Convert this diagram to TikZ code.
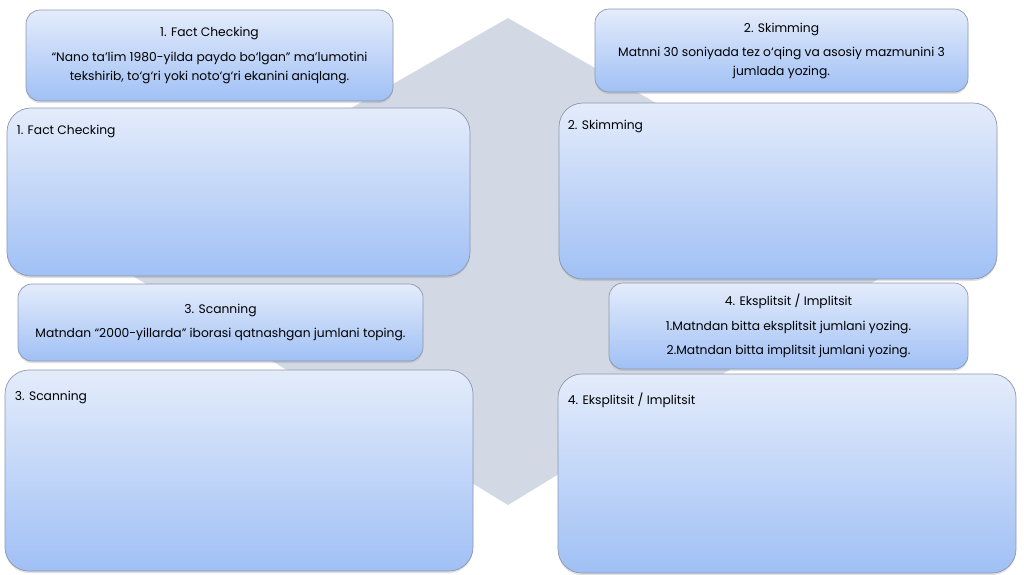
\documentclass[tikz,border=0pt]{standalone}
\usepackage{fontspec}
\setmainfont{Poppins}
\usetikzlibrary{positioning,shadows}
\definecolor{diamondfill}{RGB}{211,217,228}
\definecolor{boxtop}{RGB}{228,236,251}
\definecolor{boxbot}{RGB}{160,192,245}
\definecolor{boxline}{RGB}{140,152,175}

\begin{document}
\begin{tikzpicture}[x=1pt,y=-1pt,font=\fontsize{12.3}{19}\selectfont,
  panel/.style={draw=boxline,line width=0.7pt,top color=boxtop,bottom color=boxbot,
    inner sep=0pt,drop shadow={shadow xshift=0pt,shadow yshift=-2pt,opacity=0.25}},
  smallbox/.style={panel,rounded corners=14pt,align=center},
  bigbox/.style={panel,rounded corners=24pt},
  boxlabel/.style={anchor=west,inner sep=0pt}]
  \useasboundingbox[fill=white] (0,0) rectangle (1024,574);
  % background diamond
  \fill[diamondfill] (508,18) -- (97,254) -- (508,505) -- (919,254) -- cycle;
  % (1) fact checking
  \node[smallbox,minimum width=367pt,minimum height=91pt] (fcask) at (209.5,55.5)
     {1. Fact Checking\\[6pt]
      “Nano ta’lim 1980-yilda paydo bo‘lgan” ma’lumotini\\
      tekshirib, to‘g‘ri yoki noto‘g‘ri ekanini aniqlang.};
  \node[bigbox,minimum width=463pt,minimum height=168pt] (fcwork) at (238.5,192) {};
  \node[boxlabel] (fclabel) at ([shift={(10,24)}]fcwork.north west) {1. Fact Checking};
  % (2) skimming
  \node[smallbox,minimum width=373pt,minimum height=83pt] (skask) at (781.5,50.5)
     {2. Skimming\\[5pt]
      Matnni 30 soniyada tez o‘qing va asosiy mazmunini 3\\
      jumlada yozing.};
  \node[bigbox,minimum width=438pt,minimum height=176pt] (skwork) at (778,191) {};
  \node[boxlabel] (sklabel) at ([shift={(9,24)}]skwork.north west) {2. Skimming};
  % (3) scanning
  \node[smallbox,minimum width=405pt,minimum height=77pt] (scask) at (220.5,322.5)
     {3. Scanning\\[5pt]
      Matndan “2000-yillarda” iborasi qatnashgan jumlani toping.};
  \node[bigbox,minimum width=468pt,minimum height=201pt] (scwork) at (239,470.5) {};
  \node[boxlabel] (sclabel) at ([shift={(10,28)}]scwork.north west) {3. Scanning};
  % (4) explicit / implicit
  \node[smallbox,minimum width=359pt,minimum height=86pt] (eiask) at (788.5,326)
     {4. Eksplitsit / Implitsit\\[6pt]
      1.Matndan bitta eksplitsit jumlani yozing.\\[5pt]
      2.Matndan bitta implitsit jumlani yozing.};
  \node[bigbox,minimum width=458pt,minimum height=199pt] (eiwork) at (787,473.5) {};
  \node[boxlabel] (eilabel) at ([shift={(10,27)}]eiwork.north west) {4. Eksplitsit / Implitsit};
\end{tikzpicture}
\end{document}
